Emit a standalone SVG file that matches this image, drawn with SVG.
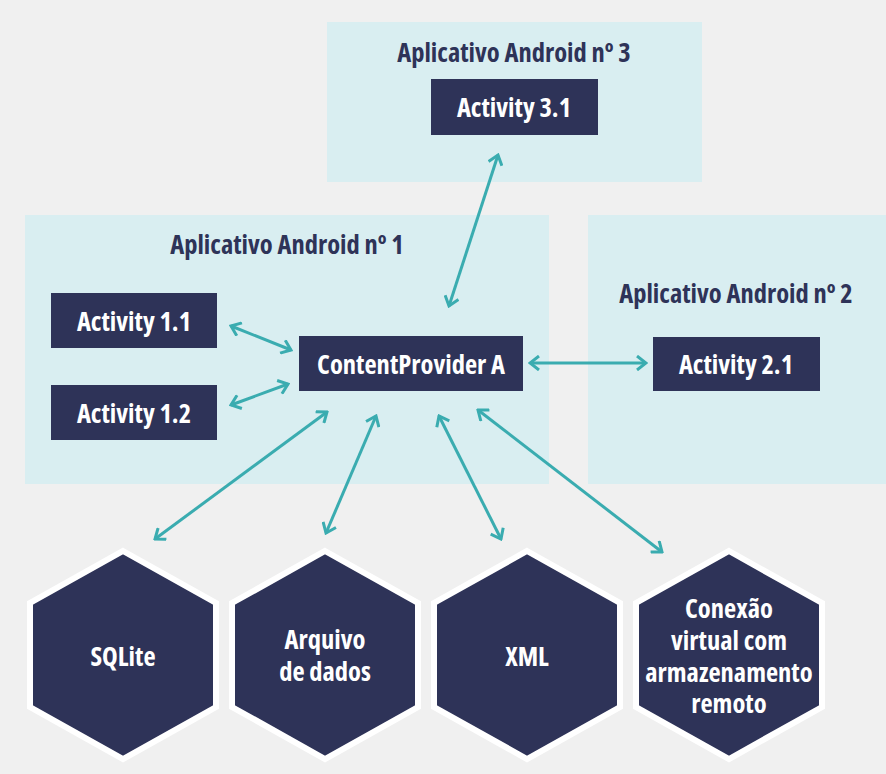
<svg xmlns="http://www.w3.org/2000/svg" width="886" height="774" viewBox="0 0 886 774">
<defs>
<style>
.bg{fill:#f0f0f0}
.app{fill:#d9eef1}
.box{fill:#2e3358}
.hex{fill:#2e3358;stroke:#ffffff;stroke-width:6;stroke-linejoin:miter}
text{font-family:"Open Sans","Liberation Sans",sans-serif;font-weight:700;font-stretch:condensed;font-size:26.5px;text-anchor:middle}
.t{fill:#2e3358}
.w{fill:#ffffff}
.c{stroke:#3aacb0;stroke-width:3;fill:none;marker-start:url(#ah);marker-end:url(#ah)}
</style>
<marker id="ah" markerUnits="userSpaceOnUse" viewBox="-12 -8 14 16" refX="0" refY="0" markerWidth="14" markerHeight="16" orient="auto-start-reverse">
<path d="M-9,-7 L0,0 L-9,7" fill="none" stroke="#3aacb0" stroke-width="3"/>
</marker>
</defs>
<rect class="bg" x="0" y="0" width="886" height="774"/>
<g id="app3">
<rect class="app" x="327" y="22" width="375" height="160"/>
<text class="t" x="514" y="62">Aplicativo Android nº 3</text>
</g>
<g id="app1">
<rect class="app" x="25" y="215" width="524" height="269"/>
<text class="t" x="287" y="254">Aplicativo Android nº 1</text>
</g>
<g id="app2">
<rect class="app" x="588" y="215" width="298" height="269"/>
<text class="t" x="736" y="303">Aplicativo Android nº 2</text>
</g>
<g id="activity31">
<rect class="box" x="431" y="79" width="167" height="56"/>
<text class="w" x="514" y="117">Activity 3.1</text>
</g>
<g id="activity11">
<rect class="box" x="51" y="293" width="166" height="55"/>
<text class="w" x="134" y="331">Activity 1.1</text>
</g>
<g id="activity12">
<rect class="box" x="51" y="385" width="166" height="55"/>
<text class="w" x="134" y="423">Activity 1.2</text>
</g>
<g id="contentprovider">
<rect class="box" x="299" y="336" width="224" height="55"/>
<text class="w" x="411" y="374">ContentProvider A</text>
</g>
<g id="activity21">
<rect class="box" x="653" y="337" width="167" height="54"/>
<text class="w" x="736" y="374">Activity 2.1</text>
</g>
<g id="connectors">
<line class="c" x1="449" y1="306" x2="498" y2="155"/>
<line class="c" x1="291" y1="350" x2="231" y2="326"/>
<line class="c" x1="288" y1="384" x2="231" y2="405"/>
<line class="c" x1="530" y1="363" x2="646" y2="363"/>
<line class="c" x1="327" y1="412" x2="155" y2="539"/>
<line class="c" x1="376" y1="416" x2="326" y2="533"/>
<line class="c" x1="439" y1="416" x2="501" y2="539"/>
<line class="c" x1="478" y1="410" x2="662" y2="552"/>
</g>
<g id="sqlite">
<polygon class="hex" points="123,551 216,603 216,707 123,759 30,707 30,603"/>
<text class="w" x="123" y="666">SQLite</text>
</g>
<g id="arquivo">
<polygon class="hex" points="325,551 418,603 418,707 325,759 232,707 232,603"/>
<text class="w"><tspan x="325" y="649">Arquivo</tspan><tspan x="325" y="681">de dados</tspan></text>
</g>
<g id="xml">
<polygon class="hex" points="527,551 620,603 620,707 527,759 434,707 434,603"/>
<text class="w" x="527" y="666">XML</text>
</g>
<g id="conexao">
<polygon class="hex" points="729,551 822,603 822,707 729,759 636,707 636,603"/>
<text class="w"><tspan x="729" y="618">Conexão</tspan><tspan x="729" y="650">virtual com</tspan><tspan x="729" y="682">armazenamento</tspan><tspan x="729" y="713">remoto</tspan></text>
</g>
</svg>
